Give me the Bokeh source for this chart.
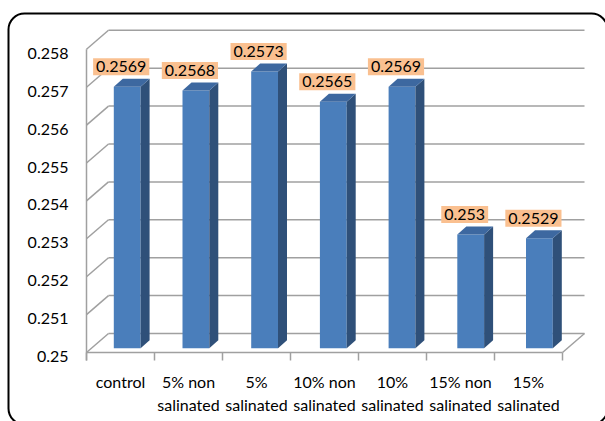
import numpy as np
from bokeh.plotting import figure
from bokeh.models import Range1d, BoxAnnotation, ColumnDataSource
from bokeh.core.properties import value
from bokeh.embed import file_html
from bokeh.resources import INLINE

# ---------------- data ----------------
categories = ["control", "5% non\nsalinated", "5%\nsalinated", "10% non\nsalinated",
              "10%\nsalinated", "15% non\nsalinated", "15%\nsalinated"]
values = [0.2569, 0.2568, 0.2573, 0.2565, 0.2569, 0.2530, 0.2529]
value_labels = ["0.2569", "0.2568", "0.2573", "0.2565", "0.2569", "0.253", "0.2529"]
y_ticks = [0.250, 0.251, 0.252, 0.253, 0.254, 0.255, 0.256, 0.257, 0.258]
y_tick_labels = ["0.25", "0.251", "0.252", "0.253", "0.254", "0.255", "0.256", "0.257", "0.258"]

# ---------------- layout / style ----------------
W, H = 605, 421
PX_X = 68.0          # pixels per category
PX_Y = 37900.0       # pixels per y unit
X0_PX = 86.0         # pixel of category boundary 0
Y0_PX = 352.0        # pixel (from top) of y = 0.25
YMIN = y_ticks[0]
YMAX = y_ticks[-1]

def sx(px):   # horizontal pixel offset -> data
    return px / PX_X

def sy(py):   # vertical pixel offset (upwards) -> data
    return py / PX_Y

FONT = value("Lato")
FS = "16px"
GRID = "#a0a0a0"

p = figure(width=W, height=H, output_backend="svg", toolbar_location=None,
           x_range=Range1d(-X0_PX / PX_X, (W - X0_PX) / PX_X),
           y_range=Range1d(YMIN - (H - Y0_PX) / PX_Y, YMIN + Y0_PX / PX_Y),
           min_border=0, outline_line_color=None)
p.axis.visible = False
p.grid.visible = False
p.background_fill_color = "white"
p.border_fill_color = "white"

n = len(categories)
DX, DY = sx(22), sy(19)   # depth of the 3D box

# back wall gridlines
p.segment(x0=[DX] * len(y_ticks), y0=[t + DY for t in y_ticks],
          x1=[n + DX] * len(y_ticks), y1=[t + DY for t in y_ticks],
          line_color=GRID, line_width=1.5)
# side wall diagonals
p.segment(x0=[0] * len(y_ticks), y0=y_ticks,
          x1=[DX] * len(y_ticks), y1=[t + DY for t in y_ticks],
          line_color=GRID, line_width=1.5)
# front vertical edge (down to tick)
p.segment(x0=[0], y0=[YMIN - sy(8)], x1=[0], y1=[YMAX], line_color=GRID, line_width=1.5)
# floor front edge and right diagonal
p.segment(x0=[0, n], y0=[YMIN, YMIN], x1=[n, n + DX], y1=[YMIN, YMIN + DY],
          line_color=GRID, line_width=1.5)
# category tick marks
p.segment(x0=list(range(n + 1)), y0=[YMIN] * (n + 1),
          x1=list(range(n + 1)), y1=[YMIN - sy(8)] * (n + 1),
          line_color=GRID, line_width=1.5)

# ---------------- bars ----------------
idx = np.arange(n)
vals = np.array(values)
shift_x, shift_y = sx(5), sy(4.3)
xc = idx * 1.0103 + 0.525 + shift_x
half = sx(13.4)
left = xc - half
right = xc + half
base = YMIN + shift_y
top = vals + shift_y
bdx, bdy = sx(9), sy(8)

src = ColumnDataSource(dict(left=left, right=right, top=top, bottom=[base] * n))
p.quad(left="left", right="right", top="top", bottom="bottom", source=src,
       fill_color="#4a7ebb", line_color=None)
side_xs = [[r, r + bdx, r + bdx, r] for r in right]
side_ys = [[base, base + bdy, t + bdy, t] for t in top]
p.patches(side_xs, side_ys, fill_color="#2f5079", line_color=None)
top_xs = [[l, r, r + bdx, l + bdx] for l, r in zip(left, right)]
top_ys = [[t, t, t + bdy, t + bdy] for t in top]
p.patches(top_xs, top_ys, fill_color="#3d68a0", line_color=None)

# ---------------- data labels ----------------
p.text(x=xc - sx(6), y=top + sy(20), text=value_labels,
       text_font=FONT, text_font_size=FS, text_color="black",
       text_align="center", text_baseline="middle",
       background_fill_color="#fac090", padding=3)

# ---------------- y tick labels ----------------
p.text(x=[sx(68 - X0_PX)] * len(y_ticks), y=y_ticks, text=y_tick_labels,
       y_offset=4, text_font=FONT, text_font_size=FS, text_color="black",
       text_align="right", text_baseline="middle")

# ---------------- category labels ----------------
line1 = [c.split("\n")[0] for c in categories]
line2 = [c.split("\n")[1] if "\n" in c else "" for c in categories]
cx = idx + 0.5
p.text(x=cx, y=[YMIN] * n, text=line1, y_offset=29, text_font=FONT,
       text_font_size=FS, text_color="black", text_align="center", text_baseline="middle")
p.text(x=cx, y=[YMIN] * n, text=line2, y_offset=52, text_font=FONT,
       text_font_size=FS, text_color="black", text_align="center", text_baseline="middle")

# ---------------- rounded chart border ----------------
p.add_layout(BoxAnnotation(left=sx(8 - X0_PX), right=sx(607 - X0_PX),
                           top=YMIN + sy(Y0_PX - 13), bottom=YMIN - sy(424 - Y0_PX),
                           fill_alpha=0, line_color="black", line_alpha=1, line_width=2,
                           border_radius=16))

open("out.html", "w").write(file_html(p, INLINE))
